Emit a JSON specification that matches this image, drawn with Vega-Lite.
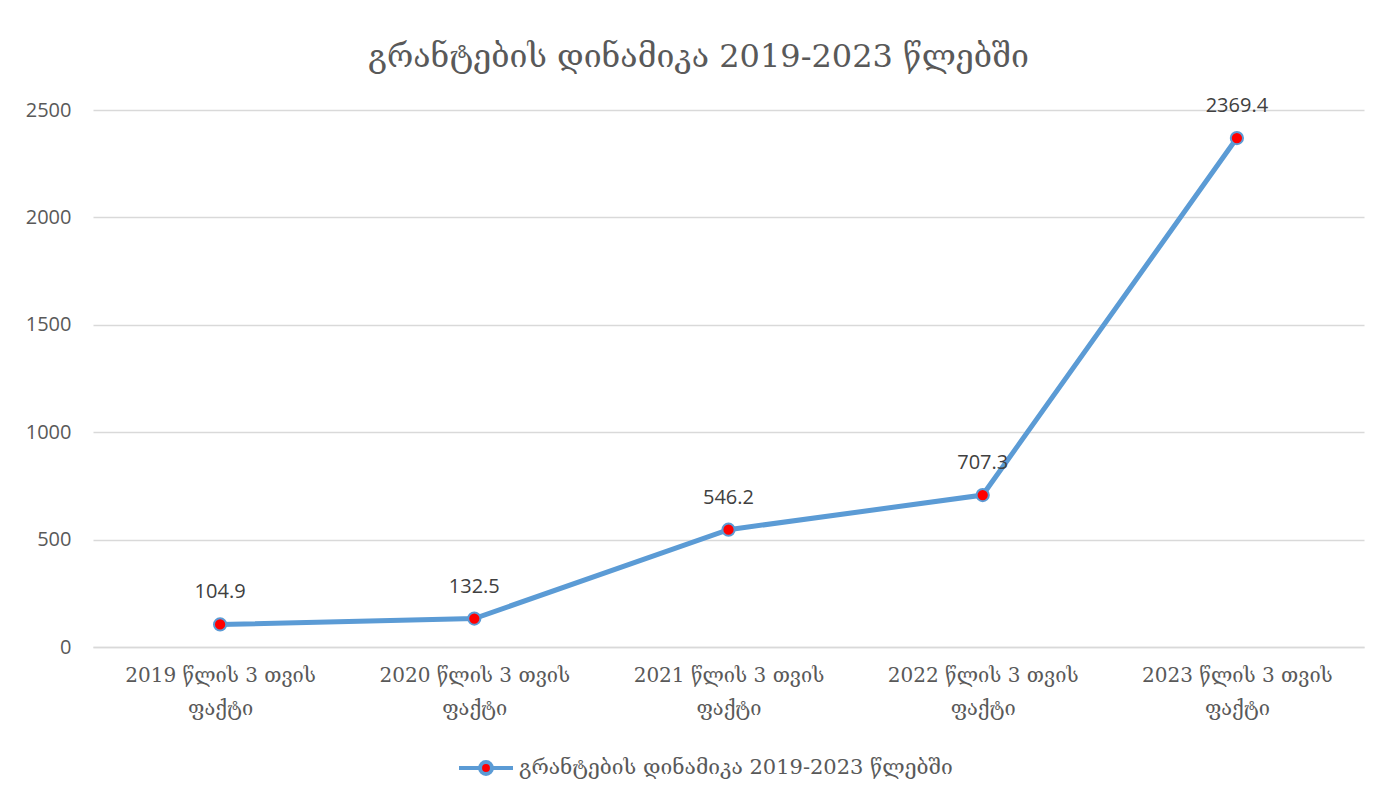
{
  "$schema": "https://vega.github.io/schema/vega-lite/v6.json",
  "autosize": {"type": "none"},
  "width": 1271,
  "height": 537,
  "padding": {"left": 93, "top": 110, "right": 35, "bottom": 151},
  "background": "white",
  "title": {
    "text": "გრანტების დინამიკა 2019-2023 წლებში",
    "font": "DejaVu Serif",
    "fontSize": 32,
    "fontWeight": "normal",
    "color": "#595959",
    "anchor": "middle",
    "dx": -30,
    "offset": 22
  },
  "data": {
    "values": [
      {"cat": "2019 წლის 3 თვის|ფაქტი", "value": 104.9, "series": "გრანტების დინამიკა 2019-2023 წლებში"},
      {"cat": "2020 წლის 3 თვის|ფაქტი", "value": 132.5, "series": "გრანტების დინამიკა 2019-2023 წლებში"},
      {"cat": "2021 წლის 3 თვის|ფაქტი", "value": 546.2, "series": "გრანტების დინამიკა 2019-2023 წლებში"},
      {"cat": "2022 წლის 3 თვის|ფაქტი", "value": 707.3, "series": "გრანტების დინამიკა 2019-2023 წლებში"},
      {"cat": "2023 წლის 3 თვის|ფაქტი", "value": 2369.4, "series": "გრანტების დინამიკა 2019-2023 წლებში"}
    ]
  },
  "encoding": {
    "x": {
      "field": "cat",
      "type": "nominal",
      "sort": null,
      "scale": {"type": "point", "padding": 0.5},
      "axis": {
        "title": null,
        "labelAngle": 0,
        "labelExpr": "split(datum.label, '|')",
        "labelFont": "DejaVu Serif",
        "labelFontSize": 20,
        "labelColor": "#595959",
        "labelLineHeight": 33,
        "labelPadding": 18,
        "labelBaseline": "top",
        "labelLimit": 400,
        "ticks": false,
        "domainColor": "#d9d9d9",
        "domainWidth": 1.5,
        "grid": false
      }
    },
    "y": {
      "field": "value",
      "type": "quantitative",
      "scale": {"domain": [0, 2500], "nice": false},
      "axis": {
        "title": null,
        "values": [0, 500, 1000, 1500, 2000, 2500],
        "format": "d",
        "labelFont": "Open Sans",
        "labelFontSize": 20,
        "labelColor": "#595959",
        "labelPadding": 22,
        "ticks": false,
        "domain": false,
        "gridColor": "#d9d9d9",
        "gridWidth": 1.5
      }
    }
  },
  "layer": [
    {
      "mark": {"type": "line", "strokeWidth": 5, "color": "#5B9BD5"},
      "encoding": {
        "stroke": {
          "field": "series",
          "type": "nominal",
          "scale": {"range": ["#5B9BD5"]},
          "legend": {
            "title": null,
            "orient": "none",
            "legendX": 364,
            "legendY": 629,
            "symbolType": "M-1,0L-0.24,0M0.24,0L1,0M0.22,0A0.22,0.22 0 1 1 -0.22,0A0.22,0.22 0 1 1 0.22,0Z",
            "symbolSize": 2916,
            "symbolStrokeWidth": 4,
            "symbolStrokeColor": "#5B9BD5",
            "symbolFillColor": "#FF0000",
            "labelFont": "DejaVu Serif",
            "labelFontSize": 21,
            "labelColor": "#595959",
            "labelOffset": 4,
            "labelLimit": 600
          }
        }
      }
    },
    {
      "mark": {"type": "point", "filled": true, "fill": "#FF0000", "stroke": "#5B9BD5", "strokeWidth": 2, "size": 150, "opacity": 1}
    },
    {
      "mark": {"type": "text", "dy": -32, "font": "Open Sans", "fontSize": 20, "color": "#404040"},
      "encoding": {
        "text": {"field": "value", "type": "quantitative", "format": ".1f"}
      }
    }
  ],
  "config": {
    "view": {"stroke": null}
  }
}
